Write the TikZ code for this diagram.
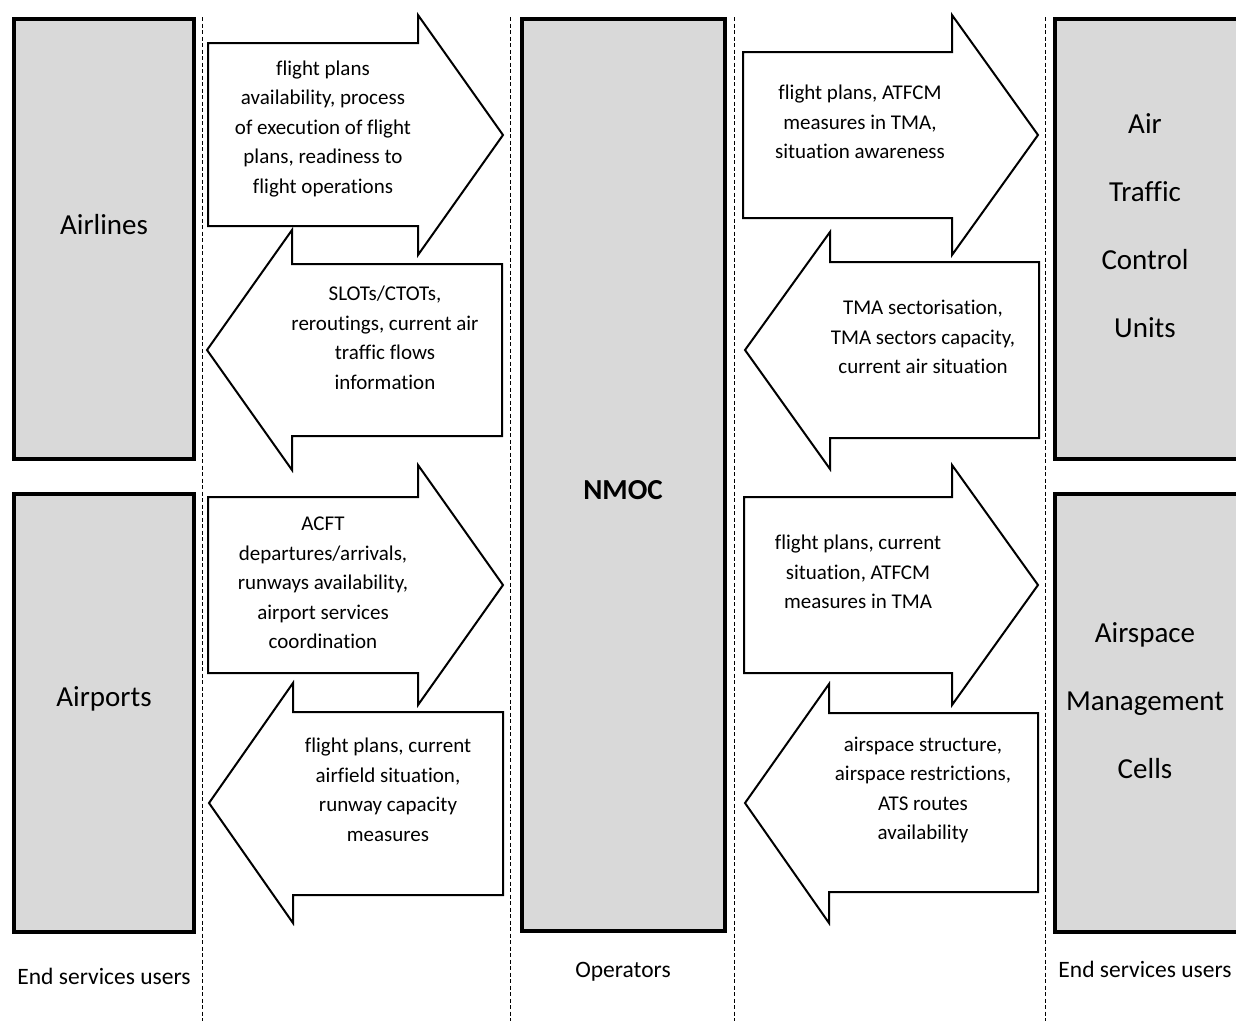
\documentclass[tikz,border=0pt]{standalone}
\usepackage{fontspec}
\setmainfont{Carlito}[Ligatures=NoCommon]
\begin{document}
\begin{tikzpicture}[x=1pt,y=-1pt,
  panel/.style={draw=black, line width=4pt, fill=panelgray, inner sep=0pt},
  paneltext/.style={font=\fontsize{29}{68}\selectfont, align=center, inner sep=0pt},
  blockarrow/.style={draw=black, line width=2pt, fill=white, line join=miter},
  flowtext/.style={font=\fontsize{21}{29.5}\selectfont, align=center, inner sep=0pt},
  divider/.style={draw=black, line width=0.9pt, dash pattern=on 4pt off 2.5pt},
  roletext/.style={font=\fontsize{23.5}{28}\selectfont, inner sep=0pt}]
\definecolor{panelgray}{HTML}{D9D9D9}
\useasboundingbox (0,0) rectangle (1236,1021);
\clip (0,0) rectangle (1236,1021);

% column separators
\draw[divider] (202,17) -- (202,1021);
\draw[divider] (510,17) -- (510,1021);
\draw[divider] (734,17) -- (734,1021);
\draw[divider] (1045,17) -- (1045,1021);

% actor panels
\node[panel, minimum width=180pt, minimum height=440pt] (airlines) at (104,239) {};
\node[panel, minimum width=180pt, minimum height=438pt] (airports) at (104,713) {};
\node[panel, minimum width=203pt, minimum height=912pt] (nmoc) at (623.5,475) {};
\node[panel, minimum width=190pt, minimum height=440pt] (atc) at (1150,239) {};
\node[panel, minimum width=190pt, minimum height=438pt] (asm) at (1150,713) {};

\node[paneltext] (airlines-l) at (104,225) {Airlines};
\node[paneltext] (airports-l) at (104,699) {Airports};
\node[paneltext, font=\fontsize{29}{68}\selectfont\bfseries] (nmoc-l) at (623,490) {NMOC};
\node[paneltext] (atc-l) at (1145,226) {Air\\Traffic\\Control\\Units};
\node[paneltext] (asm-l) at (1145,701) {Airspace\\Management\\Cells};

% information flows: airlines <-> NMOC
\draw[blockarrow] (208,43) -- (418,43) -- (418,15) -- (503,135) -- (418,255) -- (418,226) -- (208,226) -- cycle;
\draw[blockarrow] (502,264) -- (292,264) -- (292,230) -- (207,350) -- (292,470) -- (292,436) -- (502,436) -- cycle;
% airports <-> NMOC
\draw[blockarrow] (208,497) -- (418,497) -- (418,465) -- (503,585) -- (418,705) -- (418,673) -- (208,673) -- cycle;
\draw[blockarrow] (503,712) -- (293,712) -- (293,683) -- (209,803) -- (293,923) -- (293,895) -- (503,895) -- cycle;
% NMOC <-> ATC units
\draw[blockarrow] (743,52) -- (952,52) -- (952,15) -- (1038,135) -- (952,255) -- (952,218) -- (743,218) -- cycle;
\draw[blockarrow] (1039,262) -- (830,262) -- (830,232) -- (745,350) -- (830,469) -- (830,438) -- (1039,438) -- cycle;
% NMOC <-> airspace management cells
\draw[blockarrow] (744,497) -- (952,497) -- (952,465) -- (1038,585) -- (952,705) -- (952,673) -- (744,673) -- cycle;
\draw[blockarrow] (1038,713) -- (829,713) -- (829,684) -- (745,803) -- (829,923) -- (829,892) -- (1038,892) -- cycle;

\node[flowtext] (f1) at (323,129) {flight plans\\availability, process\\of execution of flight\\plans, readiness to\\flight operations};
\node[flowtext] (f2) at (385,338) {SLOTs/CTOTs,\\reroutings, current air\\traffic flows\\information};
\node[flowtext] (f3) at (323,583) {ACFT\\departures/arrivals,\\runways availability,\\airport services\\coordination};
\node[flowtext] (f4) at (388,790) {flight plans, current\\airfield situation,\\runway capacity\\measures};
\node[flowtext] (f5) at (860,122) {flight plans, ATFCM\\measures in TMA,\\situation awareness};
\node[flowtext] (f6) at (923,337) {TMA sectorisation,\\TMA sectors capacity,\\current air situation};
\node[flowtext] (f7) at (858,572) {flight plans, current\\situation, ATFCM\\measures in TMA};
\node[flowtext] (f8) at (923,790) {airspace structure,\\airspace restrictions,\\ATS routes\\availability};

% role captions
\node[roletext] (role-l) at (104,976) {End services users};
\node[roletext] (role-c) at (623,972) {Operators};
\node[roletext] (role-r) at (1145,969) {End services users};
\end{tikzpicture}
\end{document}
